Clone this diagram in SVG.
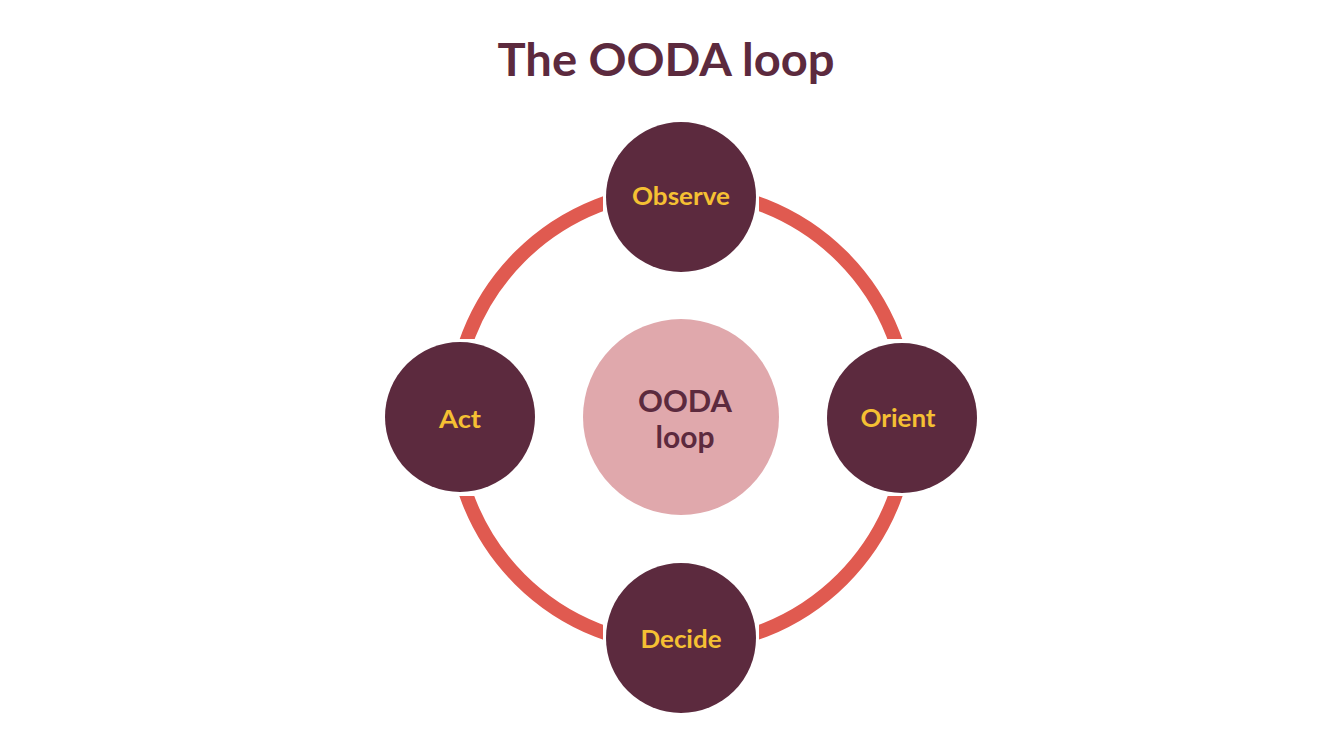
<svg xmlns="http://www.w3.org/2000/svg" width="1333" height="752" viewBox="0 0 1333 752">
  <style>
    .node { fill: #5C2A3E; }
    .lbl { font-family: Lato, "Liberation Sans", sans-serif; font-weight: 700; font-size: 24px; fill: #F5C033; text-anchor: middle; }
    .title { font-family: Lato, "Liberation Sans", sans-serif; font-weight: 700; font-size: 45px; fill: #5C2A3E; text-anchor: middle; }
    .center { font-family: Lato, "Liberation Sans", sans-serif; font-weight: 700; font-size: 30px; fill: #5C2A3E; text-anchor: middle; }
  </style>
  <defs>
    <mask id="gaps">
      <rect x="0" y="0" width="1333" height="752" fill="#fff"/>
      <rect x="603" y="0" width="156" height="752" fill="#000"/>
      <rect x="0" y="339" width="1333" height="157" fill="#000"/>
    </mask>
  </defs>
  <rect width="1333" height="752" fill="#fff"/>
  <text class="title" x="666" y="76" textLength="337" lengthAdjust="spacingAndGlyphs">The OODA loop</text>
  <g id="connectors">
    <circle cx="681" cy="418" r="228" fill="none" stroke="#E05A50" stroke-width="14" mask="url(#gaps)"/>
  </g>
  <g id="center">
    <circle cx="681" cy="417" r="98" fill="#E0A8AC"/>
    <text class="center" x="685" y="412" textLength="94" lengthAdjust="spacingAndGlyphs">OODA</text>
    <text class="center" x="685" y="448">loop</text>
  </g>
  <g id="observe">
    <circle class="node" cx="681" cy="197" r="75"/>
    <text class="lbl" x="681" y="205" textLength="98" lengthAdjust="spacingAndGlyphs">Observe</text>
  </g>
  <g id="orient">
    <circle class="node" cx="902" cy="418" r="75"/>
    <text class="lbl" x="898" y="427" textLength="75" lengthAdjust="spacingAndGlyphs">Orient</text>
  </g>
  <g id="decide">
    <circle class="node" cx="681" cy="638" r="75"/>
    <text class="lbl" x="681" y="648" textLength="81" lengthAdjust="spacingAndGlyphs">Decide</text>
  </g>
  <g id="act">
    <circle class="node" cx="460" cy="417" r="75"/>
    <text class="lbl" x="460" y="428" textLength="42" lengthAdjust="spacingAndGlyphs">Act</text>
  </g>
</svg>
